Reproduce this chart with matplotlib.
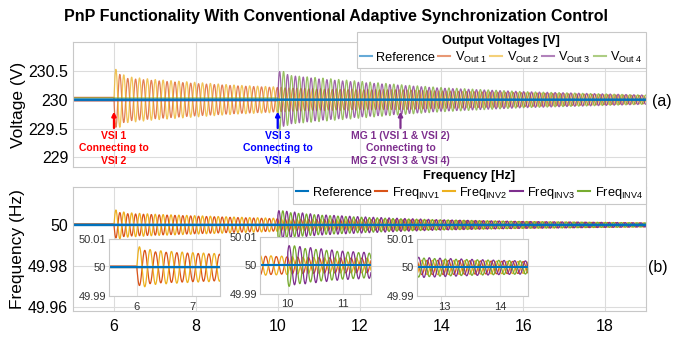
import numpy as np
import matplotlib
matplotlib.use("Agg")
from matplotlib import pyplot as plt
from matplotlib.lines import Line2D

plt.rcParams['font.family'] = ['Liberation Sans', 'DejaVu Sans']
plt.rcParams['mathtext.fontset'] = 'custom'
plt.rcParams['mathtext.rm'] = 'Liberation Sans'

# MATLAB default line colours
C_REF, C1, C2, C3, C4 = '#0072BD', '#D95319', '#EDB120', '#7E2F8E', '#77AC30'
COLORS = [C1, C2, C3, C4]

# switching events (s)
T_EVENTS = [6, 10, 13]
OSC_HZ = 5.2  # read from peak spacing

# envelope knots (s) shared by all traces
ENV_T = [6.0, 6.3, 7.0, 8.0, 9.0, 10.0, 10.3, 11.0, 12.0, 13.0, 14.0, 16.0, 19.0]

# output voltages: reference, level before oscillating, start, sign, envelope (V)
V_REF = 230.0
V_PRE = [0.04, -0.02, -0.02, 0.03]
V_START = [6, 6, 10, 10]
V_SIGN = [-1, 1, 1, -1]
V1_ENV = [0.50, 0.37, 0.33, 0.28, 0.24, 0.21, 0.20, 0.18, 0.17, 0.17, 0.15, 0.12, 0.07]
V2_ENV = [0.55, 0.40, 0.35, 0.30, 0.25, 0.22, 0.20, 0.19, 0.18, 0.17, 0.15, 0.12, 0.07]
V3_ENV = [0, 0, 0, 0, 0, 0.50, 0.42, 0.36, 0.30, 0.25, 0.20, 0.14, 0.08]
V4_ENV = [0, 0, 0, 0, 0, 0.55, 0.42, 0.38, 0.32, 0.26, 0.21, 0.14, 0.08]
V_ENVS = [V1_ENV, V2_ENV, V3_ENV, V4_ENV]
V_PHASE = [0.0, 0.0, 0.0, 0.0]

# inverter frequencies (Hz)
F_REF = 50.0
F_PRE = [0.0005, 0.0003, 0.0002, 0.0001]
F_START = [6, 6, 10, 10]
F_SIGN = [-1, 1, 1, -1]
F1_ENV = [0.0065, 0.0055, 0.0050, 0.0043, 0.0036, 0.0030, 0.0028, 0.0026, 0.0025, 0.0025, 0.0022, 0.0016, 0.0010]
F2_ENV = [0.0075, 0.0060, 0.0052, 0.0045, 0.0038, 0.0032, 0.0028, 0.0026, 0.0025, 0.0025, 0.0022, 0.0016, 0.0010]
F3_ENV = [0, 0, 0, 0, 0, 0.0070, 0.0065, 0.0050, 0.0040, 0.0032, 0.0025, 0.0017, 0.0010]
F4_ENV = [0, 0, 0, 0, 0, 0.0075, 0.0060, 0.0048, 0.0038, 0.0030, 0.0025, 0.0017, 0.0010]
F_ENVS = [F1_ENV, F2_ENV, F3_ENV, F4_ENV]
F_PHASE = [0.0, 0.0, 0.6, 0.6]

V_LABELS = ['Reference', r'V$_{\mathregular{Out\ 1}}$', r'V$_{\mathregular{Out\ 2}}$',
			r'V$_{\mathregular{Out\ 3}}$', r'V$_{\mathregular{Out\ 4}}$']
F_LABELS = ['Reference', r'Freq$_{\mathregular{INV1}}$', r'Freq$_{\mathregular{INV2}}$',
			r'Freq$_{\mathregular{INV3}}$', r'Freq$_{\mathregular{INV4}}$']

EVENT_TEXT = ['VSI 1\nConnecting to\nVSI 2', 'VSI 3\nConnecting to\nVSI 4',
			  'MG 1 (VSI 1 & VSI 2)\nConnecting to\nMG 2 (VSI 3 & VSI 4)']
EVENT_COLORS = ['#FF0000', '#0000FF', '#7E2F8E']


def trace(t, base, pre, start, sign, env_vals, phase):
	env = np.interp(t, ENV_T, env_vals)
	y = np.full_like(t, base + pre)
	on = t >= start
	y[on] = base + sign * env[on] * np.sin(2 * np.pi * OSC_HZ * (t[on] - start) + phase)
	return y


def style_axes(ax, grid_color='#dcdcdc'):
	ax.grid(True, color=grid_color, linewidth=0.8)
	ax.set_axisbelow(True)
	ax.tick_params(length=0)
	for s in ax.spines.values():
		s.set_color('#c8c8c8')
		s.set_linewidth(0.8)


t = np.arange(5, 19.0005, 0.002)
volts = [trace(t, V_REF, V_PRE[i], V_START[i], V_SIGN[i], V_ENVS[i], V_PHASE[i]) for i in range(4)]
freqs = [trace(t, F_REF, F_PRE[i], F_START[i], F_SIGN[i], F_ENVS[i], F_PHASE[i]) for i in range(4)]

fig = plt.figure(figsize=(6.73, 3.39), dpi=100)

# ---- (a) voltages
ax1 = fig.add_axes([0.1085, 0.507, 0.8515, 0.369])
for y, c in zip(volts, COLORS):
	ax1.plot(t, y, color=c, lw=0.9, alpha=0.75)
ax1.plot(t, np.full_like(t, V_REF), color=C_REF, lw=1.8)
ax1.set_xlim(5, 19)
ax1.set_ylim(228.83, 231.0)
ax1.set_xticks(range(6, 19, 2))
ax1.set_xticklabels([])
ax1.set_yticks([229, 229.5, 230, 230.5])
ax1.set_yticklabels(['229', '229.5', '230', '230.5'], fontsize=11.5)
ax1.set_ylabel('Voltage (V)', fontsize=12.5, labelpad=2)
style_axes(ax1)

for x, txt, c in zip(T_EVENTS, EVENT_TEXT, EVENT_COLORS):
	ax1.annotate('', xy=(x, 229.84), xytext=(x, 229.46),
				 arrowprops=dict(arrowstyle='-|>', color=c, lw=1.6, mutation_scale=6))
	ax1.text(x, 229.16, txt, color=c, fontsize=7.5, fontweight='bold',
			 ha='center', va='center', linespacing=1.3)

# ---- (b) frequencies
ax2 = fig.add_axes([0.1085, 0.0826, 0.8515, 0.3658])
for y, c in zip(freqs, COLORS):
	ax2.plot(t, y, color=c, lw=0.9)
ax2.plot(t, np.full_like(t, F_REF), color=C_REF, lw=1.8)
ax2.set_xlim(5, 19)
ax2.set_ylim(49.958, 50.0185)
ax2.set_xticks(range(6, 19, 2))
ax2.set_xticklabels([str(v) for v in range(6, 19, 2)], fontsize=11.5)
ax2.set_yticks([49.96, 49.98, 50])
ax2.set_yticklabels(['49.96', '49.98', '50'], fontsize=11.5)
ax2.set_ylabel('Frequency (Hz)', fontsize=12.5, labelpad=2)
ax2.tick_params(axis='x', pad=6)
style_axes(ax2)

# zoomed insets
insets = [([0.162, 0.127, 0.165, 0.168], (5.5, 7.5), [6, 7]),
		  ([0.386, 0.133, 0.165, 0.168], (9.5, 11.5), [10, 11]),
		  ([0.6196, 0.127, 0.165, 0.168], (12.5, 14.5), [13, 14])]
for rect, xl, xt in insets:
	ax = fig.add_axes(rect)
	for y, c in zip(freqs, COLORS):
		ax.plot(t, y, color=c, lw=0.9)
	ax.plot(t, np.full_like(t, F_REF), color=C_REF, lw=1.6)
	ax.set_xlim(*xl)
	ax.set_ylim(49.99, 50.01)
	ax.set_xticks(xt)
	ax.set_xticklabels([str(v) for v in xt], fontsize=8, color='#333333')
	ax.set_yticks([49.99, 50, 50.01])
	ax.set_yticklabels(['49.99', '50', '50.01'], fontsize=8, color='#333333')
	ax.tick_params(axis='x', pad=4)
	ax.tick_params(axis='y', pad=2)
	style_axes(ax, '#e0e0e0')

fig.text(0.984, 0.70, '(a)', fontsize=11.5, ha='center', va='center')
fig.text(0.978, 0.21, '(b)', fontsize=11.5, ha='center', va='center')

fig.suptitle('PnP Functionality With Conventional Adaptive Synchronization Control',
			 x=0.5, y=0.95, va='center', fontsize=11.5, fontweight='bold')

# legends (MATLAB style, title row over one row of entries)
def make_legend(colors, labels, title, box, alphas):
	handles = [Line2D([], [], color=c, lw=1.5, alpha=a) for c, a in zip(colors, alphas)]
	leg = fig.legend(handles, labels, loc='upper left', bbox_to_anchor=box, mode='expand',
					 ncol=5, fontsize=9.2, title=title, handlelength=0.95, handletextpad=0.35,
					 columnspacing=0.3, borderpad=0.25, borderaxespad=0, labelspacing=0.2,
					 fancybox=False, framealpha=1, edgecolor='#c8c8c8')
	leg.get_title().set_fontweight('bold')
	leg.get_title().set_fontsize(9.2)
	leg.get_frame().set_linewidth(0.8)
	return leg

make_legend([C_REF] + COLORS, V_LABELS, 'Output Voltages [V]',
			(0.530, 0.794, 0.430, 0.112), [0.6] * 5)
make_legend([C_REF] + COLORS, F_LABELS, 'Frequency [Hz]',
			(0.435, 0.389, 0.525, 0.118), [1] * 5)

# separator between legend title and entries
fig.add_artist(Line2D([0.530, 0.960], [1 - 49 / 339] * 2, color='#c8c8c8', lw=0.8))
fig.add_artist(Line2D([0.435, 0.960], [1 - 183 / 339] * 2, color='#c8c8c8', lw=0.8))

plt.savefig('out.png', dpi=100)
plt.close()
